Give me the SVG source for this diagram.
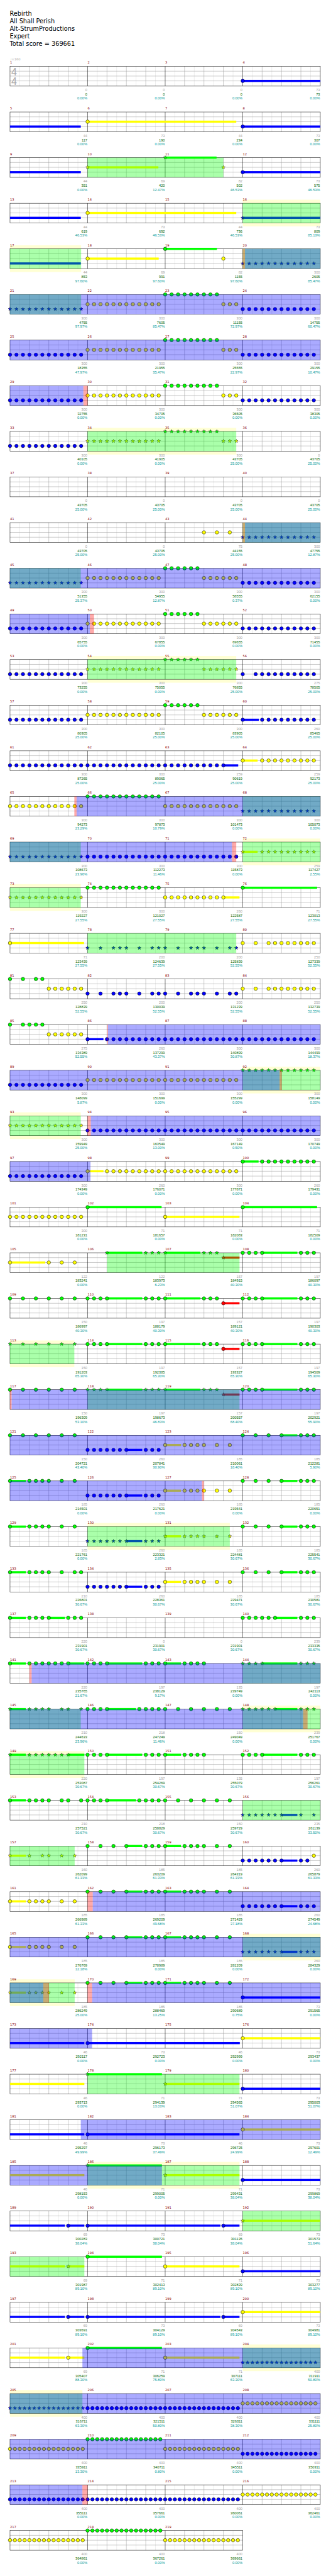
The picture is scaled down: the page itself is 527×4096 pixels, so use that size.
<svg xmlns="http://www.w3.org/2000/svg" xmlns:xlink="http://www.w3.org/1999/xlink" width="527" height="4096" viewBox="0 0 527 4096">
<style>
.G{fill:#00ff00}.R{fill:#ff0000}.Y{fill:#ffff00}.B{fill:#0000ff}
.og{fill:#00ff00;fill-opacity:.3333}.ob{fill:#0000ff;fill-opacity:.3333}.or{fill:#ff0000;fill-opacity:.3333}
.bd{fill:#ffffd4}
.mn{font:10px "DejaVu Sans",sans-serif;fill:#8b0000}
.la,.lb,.lc{font:11px "Liberation Sans",Arial,sans-serif;text-anchor:end}
.la{fill:#a0a0a0}.lb{fill:#006400}.lc{fill:#009a9a}
.ti{font:19px "DejaVu Sans",sans-serif;fill:#000}
.ts{font:31px "Liberation Sans",Arial,sans-serif;fill:#aaa}
.tp{font:10px "DejaVu Sans",sans-serif;fill:#aaa}
</style>
<defs>
<g id="g4"><rect x="31" width="960" height="61" fill="#fff"/><path stroke="#dcdcdc" d="M61 0V61M121 0V61M181 0V61M241 0V61M301 0V61M361 0V61M421 0V61M481 0V61M541 0V61M601 0V61M661 0V61M721 0V61M781 0V61M841 0V61M901 0V61M961 0V61"/><path stroke="#999" d="M91 0V61M151 0V61M211 0V61M331 0V61M391 0V61M451 0V61M571 0V61M631 0V61M691 0V61M811 0V61M871 0V61M931 0V61M31 15H991M31 30H991M31 45H991"/><path stroke="#000" d="M271 0V61M511 0V61M751 0V61"/><rect x="31" width="960" height="61" fill="none" stroke="#000"/></g>
<g id="g3"><rect x="31" width="720" height="61" fill="#fff"/><path stroke="#dcdcdc" d="M61 0V61M121 0V61M181 0V61M241 0V61M301 0V61M361 0V61M421 0V61M481 0V61M541 0V61M601 0V61M661 0V61M721 0V61"/><path stroke="#999" d="M91 0V61M151 0V61M211 0V61M331 0V61M391 0V61M451 0V61M571 0V61M631 0V61M691 0V61M31 15H751M31 30H751M31 45H751"/><path stroke="#000" d="M271 0V61M511 0V61"/><rect x="31" width="720" height="61" fill="none" stroke="#000"/></g>
<circle id="n" r="5.4" stroke="#000"/>
<path id="s" stroke="#000" stroke-width=".8" d="M0-5.8L1.41-1.94L5.52-1.79L2.28.74L3.41 4.69L0 2.4L-3.41 4.69L-2.28.74L-5.52-1.79L-1.41-1.94Z"/>
<g id="t3"><use href="#n"/><use href="#n" x="20"/><use href="#n" x="40"/></g>
<g id="t6"><use href="#t3"/><use href="#t3" x="60"/></g>
<g id="t9"><use href="#t6"/><use href="#t3" x="120"/></g>
<g id="t12"><use href="#t6"/><use href="#t6" x="120"/></g>
<g id="T3"><use href="#s"/><use href="#s" x="20"/><use href="#s" x="40"/></g>
<g id="T6"><use href="#T3"/><use href="#T3" x="60"/></g>
<g id="T9"><use href="#T6"/><use href="#T3" x="120"/></g>
<g id="T12"><use href="#T6"/><use href="#T6" x="120"/></g>
<g id="s4"><use href="#n"/><use href="#n" x="15"/><use href="#n" x="30"/><use href="#n" x="45"/></g>
<g id="s16"><use href="#s4"/><use href="#s4" x="60"/><use href="#s4" x="120"/><use href="#s4" x="180"/></g>
<g id="S4"><use href="#s"/><use href="#s" x="15"/><use href="#s" x="30"/><use href="#s" x="45"/></g>
<g id="S16"><use href="#S4"/><use href="#S4" x="60"/><use href="#S4" x="120"/><use href="#S4" x="180"/></g>
<g id="p8"><use href="#n"/><use href="#n" x="40"/><use href="#t3" x="80"/><use href="#n" x="160"/><use href="#n" x="200"/><use href="#n" x="220"/></g>
<g id="P8"><use href="#s"/><use href="#s" x="40"/><use href="#T3" x="80"/><use href="#s" x="160"/><use href="#s" x="200"/><use href="#s" x="220"/></g>
<g id="p10"><use href="#n"/><use href="#n" x="40"/><use href="#t3" x="80"/><use href="#t3" x="140"/><use href="#n" x="200"/><use href="#n" x="220"/></g>
<g id="pe"><use href="#n"/><use href="#n" x="40"/><use href="#n" x="80"/><use href="#n" x="120"/><use href="#n" x="160"/><use href="#n" x="200"/></g>
<g id="PE"><use href="#s"/><use href="#s" x="40"/><use href="#s" x="80"/><use href="#s" x="120"/><use href="#s" x="160"/><use href="#s" x="200"/></g>
<g id="pq"><rect y="-3.3" width="49" height="6.6"/><use href="#n"/><use href="#t3" x="60"/><use href="#n" x="120"/><use href="#n" x="160"/><use href="#n" x="200"/></g>
<g id="PQ"><rect y="-3.3" width="49" height="6.6"/><use href="#s"/><use href="#T3" x="60"/><use href="#s" x="120"/><use href="#s" x="160"/><use href="#s" x="200"/></g>
<g id="pa"><use href="#t3"/><rect x="60" y="-3.3" width="109" height="6.6"/><use href="#n" x="60"/><use href="#t3" x="180"/></g>
<g id="PA"><use href="#T3"/><rect x="60" y="-3.3" width="109" height="6.6"/><use href="#s" x="60"/><use href="#T3" x="180"/></g>
<g id="pc"><use href="#n"/><use href="#n" x="40"/><use href="#n" x="80"/><rect x="120" y="-3.3" width="49" height="6.6"/><use href="#n" x="120"/><use href="#t3" x="180"/></g>
<g id="pd"><use href="#t6"/><rect x="120" y="-3.3" width="49" height="6.6"/><use href="#n" x="120"/><use href="#t3" x="180"/></g>
<g id="PD"><use href="#T6"/><rect x="120" y="-3.3" width="49" height="6.6"/><use href="#s" x="120"/><use href="#T3" x="180"/></g>
<g id="pf"><use href="#t3"/><use href="#n" x="60"/><use href="#n" x="80"/><rect x="100" y="-3.3" width="69" height="6.6"/><use href="#n" x="100"/><use href="#t3" x="180"/></g>
<g id="PF"><use href="#T3"/><use href="#s" x="60"/><use href="#s" x="80"/><rect x="100" y="-3.3" width="69" height="6.6"/><use href="#s" x="100"/><use href="#T3" x="180"/></g>
<g id="ph"><rect y="-3.3" width="49" height="6.6"/><use href="#n"/><use href="#t6" x="60"/><rect x="180" y="-3.3" width="50" height="6.6"/><use href="#n" x="180"/></g>
<g id="PH"><rect y="-3.3" width="49" height="6.6"/><use href="#s"/><use href="#T6" x="60"/><rect x="180" y="-3.3" width="50" height="6.6"/><use href="#s" x="180"/></g>
<g id="pi"><rect y="-3.3" width="49" height="6.6"/><use href="#n"/><use href="#t3" x="60"/><use href="#n" x="120"/><use href="#n" x="160"/><use href="#n" x="180"/><use href="#n" x="220"/></g>
<g id="PI"><rect y="-3.3" width="49" height="6.6"/><use href="#s"/><use href="#T3" x="60"/><use href="#s" x="120"/><use href="#s" x="160"/><use href="#s" x="180"/><use href="#s" x="220"/></g>
<g id="pj"><use href="#t3"/><rect x="60" y="-3.3" width="90" height="6.6"/><use href="#n" x="60"/><use href="#n" x="160"/><use href="#t3" x="180"/></g>
<g id="pk"><rect y="-3.3" width="49" height="6.6"/><use href="#n"/><use href="#t3" x="60"/><use href="#n" x="120"/></g>
<g id="pm"><rect y="-3.3" width="109" height="6.6"/><use href="#n"/><use href="#t3" x="120"/></g>
<g id="PM"><rect y="-3.3" width="109" height="6.6"/><use href="#s"/><use href="#T3" x="120"/></g>
</defs>
<g transform="scale(0.5146)">
<g id="title">
<text class="ti" x="30" y="49">Rebirth</text>
<text class="ti" x="30" y="72">All Shall Perish</text>
<text class="ti" x="30" y="95">Alt-StrumProductions</text>
<text class="ti" x="30" y="118">Expert</text>
<text class="ti" x="30" y="141">Total score = 369661</text>
<text class="tp" x="31" y="186">♩=160</text>
</g>

<g id="row1" transform="translate(0,205)"><use href="#g4"/>
<text class="ts" x="35" y="27.5">4</text><text class="ts" x="35" y="57">4</text>
<rect class="B" x="751" y="41.7" width="240" height="6.6"/><use href="#n" x="751" y="45" class="B"/>
<text class="mn" y="-8"><tspan x="31">1</tspan><tspan x="271">2</tspan><tspan x="511">3</tspan><tspan x="751">4</tspan></text>
<text class="la" y="77"><tspan x="270">0</tspan><tspan x="510">0</tspan><tspan x="750">0</tspan><tspan x="990">73</tspan></text>
<text class="lb" y="90.3"><tspan x="270">0</tspan><tspan x="510">0</tspan><tspan x="750">0</tspan><tspan x="990">73</tspan></text>
<text class="lc" y="103"><tspan x="270">0.00%</tspan><tspan x="510">0.00%</tspan><tspan x="750">0.00%</tspan><tspan x="990">0.00%</tspan></text></g>

<g id="row2" transform="translate(0,346)"><use href="#g4"/>
<rect class="B" x="31" y="41.7" width="219" height="6.6"/>
<rect class="Y" x="271" y="26.7" width="460" height="6.6"/><use href="#n" x="271" y="30" class="Y"/>
<rect class="B" x="751" y="41.7" width="240" height="6.6"/><use href="#n" x="751" y="45" class="B"/>
<text class="mn" y="-8"><tspan x="31">5</tspan><tspan x="271">6</tspan><tspan x="511">7</tspan><tspan x="751">8</tspan></text>
<text class="la" y="77"><tspan x="270">44</tspan><tspan x="510">73</tspan><tspan x="750">44</tspan><tspan x="990">73</tspan></text>
<text class="lb" y="90.3"><tspan x="270">117</tspan><tspan x="510">190</tspan><tspan x="750">234</tspan><tspan x="990">307</tspan></text>
<text class="lc" y="103"><tspan x="270">0.00%</tspan><tspan x="510">0.00%</tspan><tspan x="750">0.00%</tspan><tspan x="990">0.00%</tspan></text></g>

<g id="row3" transform="translate(0,487)"><use href="#g4"/>
<rect class="B" x="31" y="41.7" width="219" height="6.6"/>
<rect class="Y" x="271" y="26.7" width="219" height="6.6"/><use href="#s" x="271" y="30" class="Y"/>
<rect class="G" x="511" y="-3.3" width="159" height="6.6"/><use href="#s" x="511" y="0" class="G"/>
<use href="#s" x="691" y="30" class="Y"/>
<rect class="B" x="751" y="41.7" width="240" height="6.6"/><use href="#n" x="751" y="45" class="B"/>
<rect class="og" x="271" width="420" height="61"/>
<text class="mn" y="-8"><tspan x="31">9</tspan><tspan x="271">10</tspan><tspan x="511">11</tspan><tspan x="751">12</tspan></text>
<text class="la" y="77"><tspan x="270">44</tspan><tspan x="510">69</tspan><tspan x="750">82</tspan><tspan x="990">73</tspan></text>
<text class="lb" y="90.3"><tspan x="270">351</tspan><tspan x="510">420</tspan><tspan x="750">502</tspan><tspan x="990">575</tspan></text>
<text class="lc" y="103"><tspan x="270">0.00%</tspan><tspan x="510">12.47%</tspan><tspan x="750">46.53%</tspan><tspan x="990">46.53%</tspan></text></g>

<g id="row4" transform="translate(0,628)">
<rect class="bd" x="751" y="-11" width="240" height="82.5"/><use href="#g4"/>
<rect class="B" x="31" y="41.7" width="219" height="6.6"/>
<rect class="Y" x="271" y="26.7" width="460" height="6.6"/><use href="#n" x="271" y="30" class="Y"/>
<rect class="B" x="751" y="41.7" width="240" height="6.6"/><use href="#s" x="751" y="45" class="B"/>
<rect class="og" x="751" width="240" height="61"/>
<text class="mn" y="-8"><tspan x="31">13</tspan><tspan x="271">14</tspan><tspan x="511">15</tspan><tspan x="751">16</tspan></text>
<text class="la" y="77"><tspan x="270">44</tspan><tspan x="510">73</tspan><tspan x="750">44</tspan><tspan x="990">73</tspan></text>
<text class="lb" y="90.3"><tspan x="270">619</tspan><tspan x="510">692</tspan><tspan x="750">736</tspan><tspan x="990">809</tspan></text>
<text class="lc" y="103"><tspan x="270">46.53%</tspan><tspan x="510">46.53%</tspan><tspan x="750">46.53%</tspan><tspan x="990">85.13%</tspan></text></g>

<g id="row5" transform="translate(0,769)">
<rect class="bd" x="31" y="-11" width="220" height="82.5"/><use href="#g4"/>
<rect class="B" x="31" y="41.7" width="219" height="6.6"/>
<rect class="Y" x="271" y="26.7" width="220" height="6.6"/><use href="#n" x="271" y="30" class="Y"/>
<rect class="G" x="511" y="-3.3" width="160" height="6.6"/><use href="#n" x="511" y="0" class="G"/>
<use href="#n" x="691" y="30" class="Y"/>
<use href="#T12" x="751" y="45" class="B"/>
<rect class="og" x="31" width="220" height="61"/><rect class="og" x="751" width="240" height="61"/>
<rect class="or" x="751" width="7" height="61"/><rect class="ob" x="758" width="233" height="61"/>
<text class="mn" y="-8"><tspan x="31">17</tspan><tspan x="271">18</tspan><tspan x="511">19</tspan><tspan x="751">20</tspan></text>
<text class="la" y="77"><tspan x="270">44</tspan><tspan x="510">69</tspan><tspan x="750">82</tspan><tspan x="990">300</tspan></text>
<text class="lb" y="90.3"><tspan x="270">853</tspan><tspan x="510">991</tspan><tspan x="750">1155</tspan><tspan x="990">2605</tspan></text>
<text class="lc" y="103"><tspan x="270">97.60%</tspan><tspan x="510">97.60%</tspan><tspan x="750">97.60%</tspan><tspan x="990">85.47%</tspan></text></g>

<g id="row6" transform="translate(0,910)"><use href="#g4"/>
<use href="#T12" x="31" y="45" class="B"/><use href="#t12" x="271" y="30" class="Y"/><use href="#t9" x="511" y="0" class="G"/><use href="#t3" x="691" y="30" class="Y"/><use href="#t12" x="751" y="45" class="B"/>
<rect class="og" x="31" width="220" height="61"/><rect class="ob" x="31" width="960" height="61"/>
<text class="mn" y="-8"><tspan x="31">21</tspan><tspan x="271">22</tspan><tspan x="511">23</tspan><tspan x="751">24</tspan></text>
<text class="la" y="77"><tspan x="270">300</tspan><tspan x="510">300</tspan><tspan x="750">300</tspan><tspan x="990">300</tspan></text>
<text class="lb" y="90.3"><tspan x="270">4755</tspan><tspan x="510">7605</tspan><tspan x="750">11155</tspan><tspan x="990">14755</tspan></text>
<text class="lc" y="103"><tspan x="270">97.97%</tspan><tspan x="510">85.47%</tspan><tspan x="750">72.97%</tspan><tspan x="990">60.47%</tspan></text></g>

<g id="row7" transform="translate(0,1051)"><use href="#g4"/>
<use href="#t12" x="31" y="45" class="B"/><use href="#t12" x="271" y="30" class="Y"/><use href="#t9" x="511" y="0" class="G"/><use href="#t3" x="691" y="30" class="Y"/><use href="#t12" x="751" y="45" class="B"/>
<rect class="ob" x="31" width="960" height="61"/>
<text class="mn" y="-8"><tspan x="31">25</tspan><tspan x="271">26</tspan><tspan x="511">27</tspan><tspan x="751">28</tspan></text>
<text class="la" y="77"><tspan x="270">300</tspan><tspan x="510">300</tspan><tspan x="750">300</tspan><tspan x="990">300</tspan></text>
<text class="lb" y="90.3"><tspan x="270">18355</tspan><tspan x="510">21955</tspan><tspan x="750">25555</tspan><tspan x="990">29155</tspan></text>
<text class="lc" y="103"><tspan x="270">47.97%</tspan><tspan x="510">35.47%</tspan><tspan x="750">22.97%</tspan><tspan x="990">10.47%</tspan></text></g>

<g id="row8" transform="translate(0,1192)"><use href="#g4"/>
<use href="#t12" x="31" y="45" class="B"/><use href="#t12" x="271" y="30" class="Y"/><use href="#t9" x="511" y="0" class="G"/><use href="#t3" x="691" y="30" class="Y"/><use href="#t12" x="751" y="45" class="B"/>
<rect class="ob" x="31" width="227" height="61"/><rect class="or" x="258" width="13" height="61"/>
<text class="mn" y="-8"><tspan x="31">29</tspan><tspan x="271">30</tspan><tspan x="511">31</tspan><tspan x="751">32</tspan></text>
<text class="la" y="77"><tspan x="270">300</tspan><tspan x="510">300</tspan><tspan x="750">300</tspan><tspan x="990">300</tspan></text>
<text class="lb" y="90.3"><tspan x="270">32755</tspan><tspan x="510">34705</tspan><tspan x="750">36505</tspan><tspan x="990">38305</tspan></text>
<text class="lc" y="103"><tspan x="270">0.00%</tspan><tspan x="510">0.00%</tspan><tspan x="750">0.00%</tspan><tspan x="990">0.00%</tspan></text></g>

<g id="row9" transform="translate(0,1333)">
<rect class="bd" x="271" y="-11" width="460" height="82.5"/><use href="#g4"/>
<use href="#t12" x="31" y="45" class="B"/><use href="#T12" x="271" y="30" class="Y"/><use href="#T9" x="511" y="0" class="G"/><use href="#T3" x="691" y="30" class="Y"/>
<rect class="og" x="271" width="460" height="61"/>
<text class="mn" y="-8"><tspan x="31">33</tspan><tspan x="271">34</tspan><tspan x="511">35</tspan><tspan x="751">36</tspan></text>
<text class="la" y="77"><tspan x="270">300</tspan><tspan x="510">300</tspan><tspan x="750">300</tspan><tspan x="990">0</tspan></text>
<text class="lb" y="90.3"><tspan x="270">40105</tspan><tspan x="510">41905</tspan><tspan x="750">43705</tspan><tspan x="990">43705</tspan></text>
<text class="lc" y="103"><tspan x="270">0.00%</tspan><tspan x="510">0.00%</tspan><tspan x="750">25.00%</tspan><tspan x="990">25.00%</tspan></text></g>

<g id="row10" transform="translate(0,1474)"><use href="#g4"/>
<text class="mn" y="-8"><tspan x="31">37</tspan><tspan x="271">38</tspan><tspan x="511">39</tspan><tspan x="751">40</tspan></text>
<text class="la" y="77"><tspan x="270">0</tspan><tspan x="510">0</tspan><tspan x="750">0</tspan><tspan x="990">0</tspan></text>
<text class="lb" y="90.3"><tspan x="270">43705</tspan><tspan x="510">43705</tspan><tspan x="750">43705</tspan><tspan x="990">43705</tspan></text>
<text class="lc" y="103"><tspan x="270">25.00%</tspan><tspan x="510">25.00%</tspan><tspan x="750">25.00%</tspan><tspan x="990">25.00%</tspan></text></g>

<g id="row11" transform="translate(0,1615)"><use href="#g4"/>
<use href="#n" x="631" y="30" class="Y"/><use href="#n" x="671" y="30" class="Y"/><use href="#n" x="711" y="30" class="Y"/>
<use href="#T12" x="751" y="45" class="B"/>
<rect class="og" x="751" width="240" height="61"/><rect class="or" x="751" width="7" height="61"/><rect class="ob" x="758" width="233" height="61"/>
<text class="mn" y="-8"><tspan x="31">41</tspan><tspan x="271">42</tspan><tspan x="511">43</tspan><tspan x="751">44</tspan></text>
<text class="la" y="77"><tspan x="270">0</tspan><tspan x="510">0</tspan><tspan x="750">75</tspan><tspan x="990">300</tspan></text>
<text class="lb" y="90.3"><tspan x="270">43705</tspan><tspan x="510">43705</tspan><tspan x="750">44155</tspan><tspan x="990">47755</tspan></text>
<text class="lc" y="103"><tspan x="270">25.00%</tspan><tspan x="510">25.00%</tspan><tspan x="750">25.00%</tspan><tspan x="990">12.87%</tspan></text></g>

<g id="row12" transform="translate(0,1756)"><use href="#g4"/>
<use href="#T12" x="31" y="45" class="B"/><use href="#t12" x="271" y="30" class="Y"/><use href="#t6" x="511" y="0" class="G"/><use href="#t6" x="631" y="30" class="Y"/><use href="#t12" x="751" y="45" class="B"/>
<rect class="og" x="31" width="219" height="61"/><rect class="ob" x="31" width="960" height="61"/>
<text class="mn" y="-8"><tspan x="31">45</tspan><tspan x="271">46</tspan><tspan x="511">47</tspan><tspan x="751">48</tspan></text>
<text class="la" y="77"><tspan x="270">300</tspan><tspan x="510">300</tspan><tspan x="750">300</tspan><tspan x="990">300</tspan></text>
<text class="lb" y="90.3"><tspan x="270">51355</tspan><tspan x="510">54955</tspan><tspan x="750">58555</tspan><tspan x="990">62155</tspan></text>
<text class="lc" y="103"><tspan x="270">25.37%</tspan><tspan x="510">12.87%</tspan><tspan x="750">0.37%</tspan><tspan x="990">0.00%</tspan></text></g>

<g id="row13" transform="translate(0,1897)"><use href="#g4"/>
<use href="#t12" x="31" y="45" class="B"/><use href="#t12" x="271" y="30" class="Y"/><use href="#t6" x="511" y="0" class="G"/><use href="#t6" x="631" y="30" class="Y"/><use href="#t12" x="751" y="45" class="B"/>
<rect class="ob" x="31" width="247" height="61"/><rect class="or" x="278" width="13" height="61"/>
<text class="mn" y="-8"><tspan x="31">49</tspan><tspan x="271">50</tspan><tspan x="511">51</tspan><tspan x="751">52</tspan></text>
<text class="la" y="77"><tspan x="270">300</tspan><tspan x="510">300</tspan><tspan x="750">300</tspan><tspan x="990">300</tspan></text>
<text class="lb" y="90.3"><tspan x="270">65755</tspan><tspan x="510">67855</tspan><tspan x="750">69655</tspan><tspan x="990">71455</tspan></text>
<text class="lc" y="103"><tspan x="270">0.00%</tspan><tspan x="510">0.00%</tspan><tspan x="750">0.00%</tspan><tspan x="990">0.00%</tspan></text></g>

<g id="row14" transform="translate(0,2038)">
<rect class="bd" x="271" y="-11" width="460" height="82.5"/><use href="#g4"/>
<use href="#t12" x="31" y="45" class="B"/><use href="#T12" x="271" y="30" class="Y"/><use href="#T6" x="511" y="0" class="G"/><use href="#T6" x="631" y="30" class="Y"/>
<use href="#n" x="751" y="45" class="B"/><use href="#n" x="791" y="45" class="B"/><use href="#t9" x="811" y="45" class="B"/>
<rect class="og" x="271" width="460" height="61"/>
<text class="mn" y="-8"><tspan x="31">53</tspan><tspan x="271">54</tspan><tspan x="511">55</tspan><tspan x="751">56</tspan></text>
<text class="la" y="77"><tspan x="270">300</tspan><tspan x="510">300</tspan><tspan x="750">300</tspan><tspan x="990">275</tspan></text>
<text class="lb" y="90.3"><tspan x="270">73255</tspan><tspan x="510">75055</tspan><tspan x="750">76855</tspan><tspan x="990">78505</tspan></text>
<text class="lc" y="103"><tspan x="270">0.00%</tspan><tspan x="510">0.00%</tspan><tspan x="750">25.00%</tspan><tspan x="990">25.00%</tspan></text></g>

<g id="row15" transform="translate(0,2179)"><use href="#g4"/>
<use href="#t12" x="31" y="45" class="B"/><use href="#t12" x="271" y="30" class="Y"/><use href="#t6" x="511" y="0" class="G"/><use href="#t6" x="631" y="30" class="Y"/>
<rect class="B" x="751" y="41.7" width="50" height="6.6"/><use href="#n" x="751" y="45" class="B"/><use href="#t9" x="811" y="45" class="B"/>
<text class="mn" y="-8"><tspan x="31">57</tspan><tspan x="271">58</tspan><tspan x="511">59</tspan><tspan x="751">60</tspan></text>
<text class="la" y="77"><tspan x="270">300</tspan><tspan x="510">300</tspan><tspan x="750">300</tspan><tspan x="990">260</tspan></text>
<text class="lb" y="90.3"><tspan x="270">80305</tspan><tspan x="510">82105</tspan><tspan x="750">83905</tspan><tspan x="990">85465</tspan></text>
<text class="lc" y="103"><tspan x="270">25.00%</tspan><tspan x="510">25.00%</tspan><tspan x="750">25.00%</tspan><tspan x="990">25.00%</tspan></text></g>

<g id="row16" transform="translate(0,2320)"><use href="#g4"/>
<use href="#t12" x="31" y="45" class="B"/><use href="#t12" x="271" y="45" class="B"/><use href="#t9" x="511" y="45" class="B"/>
<rect class="B" x="691" y="41.7" width="46" height="6.6"/><use href="#n" x="691" y="45" class="B"/>
<rect class="Y" x="751" y="26.7" width="46" height="6.6"/><use href="#n" x="751" y="30" class="Y"/><use href="#t9" x="811" y="30" class="Y"/>
<text class="mn" y="-8"><tspan x="31">61</tspan><tspan x="271">62</tspan><tspan x="511">63</tspan><tspan x="751">64</tspan></text>
<text class="la" y="77"><tspan x="270">300</tspan><tspan x="510">300</tspan><tspan x="750">259</tspan><tspan x="990">259</tspan></text>
<text class="lb" y="90.3"><tspan x="270">87265</tspan><tspan x="510">89065</tspan><tspan x="750">90619</tspan><tspan x="990">92173</tspan></text>
<text class="lc" y="103"><tspan x="270">25.00%</tspan><tspan x="510">25.00%</tspan><tspan x="750">25.00%</tspan><tspan x="990">25.00%</tspan></text></g>

<g id="row17" transform="translate(0,2461)"><use href="#g4"/>
<use href="#t12" x="31" y="30" class="Y"/><use href="#t12" x="271" y="0" class="G"/><use href="#t12" x="511" y="30" class="Y"/><use href="#T12" x="751" y="45" class="B"/>
<rect class="og" x="751" width="240" height="61"/><rect class="or" x="230" width="7" height="61"/><rect class="ob" x="237" width="754" height="61"/>
<text class="mn" y="-8"><tspan x="31">65</tspan><tspan x="271">66</tspan><tspan x="511">67</tspan><tspan x="751">68</tspan></text>
<text class="la" y="77"><tspan x="270">300</tspan><tspan x="510">300</tspan><tspan x="750">300</tspan><tspan x="990">300</tspan></text>
<text class="lb" y="90.3"><tspan x="270">94273</tspan><tspan x="510">97873</tspan><tspan x="750">101473</tspan><tspan x="990">105073</tspan></text>
<text class="lc" y="103"><tspan x="270">23.29%</tspan><tspan x="510">10.79%</tspan><tspan x="750">0.00%</tspan><tspan x="990">0.00%</tspan></text></g>

<g id="row18" transform="translate(0,2602)">
<rect class="bd" x="751" y="-11" width="240" height="82.5"/><use href="#g4"/>
<use href="#T12" x="31" y="45" class="B"/><use href="#t12" x="271" y="45" class="B"/><use href="#t12" x="511" y="45" class="B"/>
<rect class="Y" x="751" y="26.7" width="46" height="6.6"/><use href="#s" x="751" y="30" class="Y"/><use href="#T9" x="811" y="30" class="Y"/>
<rect class="og" x="31" width="219" height="61"/><rect class="og" x="751" width="240" height="61"/>
<rect class="ob" x="31" width="687" height="61"/><rect class="or" x="718" width="13" height="61"/>
<text class="mn" y="-8"><tspan x="31">69</tspan><tspan x="271">70</tspan><tspan x="511">71</tspan><tspan x="751">72</tspan></text>
<text class="la" y="77"><tspan x="270">300</tspan><tspan x="510">300</tspan><tspan x="750">300</tspan><tspan x="990">259</tspan></text>
<text class="lb" y="90.3"><tspan x="270">108673</tspan><tspan x="510">112273</tspan><tspan x="750">115873</tspan><tspan x="990">117427</tspan></text>
<text class="lc" y="103"><tspan x="270">23.96%</tspan><tspan x="510">11.46%</tspan><tspan x="750">0.00%</tspan><tspan x="990">2.55%</tspan></text></g>

<g id="row19" transform="translate(0,2743)">
<rect class="bd" x="31" y="-11" width="219" height="82.5"/><use href="#g4"/>
<use href="#T12" x="31" y="30" class="Y"/><use href="#t12" x="271" y="0" class="G"/><use href="#t9" x="511" y="30" class="Y"/>
<rect class="Y" x="691" y="26.7" width="50" height="6.6"/><use href="#n" x="691" y="30" class="Y"/>
<rect class="G" x="751" y="-3.3" width="230" height="6.6"/><use href="#n" x="751" y="0" class="G"/>
<rect class="og" x="31" width="219" height="61"/>
<text class="mn" y="-8"><tspan x="31">73</tspan><tspan x="271">74</tspan><tspan x="511">75</tspan><tspan x="751">76</tspan></text>
<text class="la" y="77"><tspan x="270">300</tspan><tspan x="510">300</tspan><tspan x="750">260</tspan><tspan x="990">71</tspan></text>
<text class="lb" y="90.3"><tspan x="270">119227</tspan><tspan x="510">121027</tspan><tspan x="750">122587</tspan><tspan x="990">123013</tspan></text>
<text class="lc" y="103"><tspan x="270">27.55%</tspan><tspan x="510">27.55%</tspan><tspan x="750">27.55%</tspan><tspan x="990">27.55%</tspan></text></g>

<g id="row20" transform="translate(0,2884)"><use href="#g4"/>
<rect class="Y" x="31" y="26.7" width="229" height="6.6"/><use href="#n" x="31" y="30" class="Y"/>
<use href="#P8" x="271" y="45" class="B"/><use href="#P8" x="511" y="45" class="B"/><use href="#p10" x="751" y="30" class="Y"/>
<rect class="og" x="271" width="460" height="61"/>
<text class="mn" y="-8"><tspan x="31">77</tspan><tspan x="271">78</tspan><tspan x="511">79</tspan><tspan x="751">80</tspan></text>
<text class="la" y="77"><tspan x="270">71</tspan><tspan x="510">200</tspan><tspan x="750">200</tspan><tspan x="990">250</tspan></text>
<text class="lb" y="90.3"><tspan x="270">123439</tspan><tspan x="510">124639</tspan><tspan x="750">125839</tspan><tspan x="990">127339</tspan></text>
<text class="lc" y="103"><tspan x="270">27.55%</tspan><tspan x="510">27.55%</tspan><tspan x="750">52.55%</tspan><tspan x="990">52.55%</tspan></text></g>

<g id="row21" transform="translate(0,3025)"><use href="#g4"/>
<use href="#n" x="31" class="G"/><use href="#n" x="71" class="G"/><use href="#n" x="111" class="G"/><use href="#n" x="131" class="G"/><use href="#t6" x="151" y="30" class="Y"/>
<use href="#p8" x="271" y="45" class="B"/><use href="#p8" x="511" y="45" class="B"/><use href="#p10" x="751" y="30" class="Y"/>
<text class="mn" y="-8"><tspan x="31">81</tspan><tspan x="271">82</tspan><tspan x="511">83</tspan><tspan x="751">84</tspan></text>
<text class="la" y="77"><tspan x="270">250</tspan><tspan x="510">200</tspan><tspan x="750">200</tspan><tspan x="990">250</tspan></text>
<text class="lb" y="90.3"><tspan x="270">128839</tspan><tspan x="510">130039</tspan><tspan x="750">131239</tspan><tspan x="990">132739</tspan></text>
<text class="lc" y="103"><tspan x="270">52.55%</tspan><tspan x="510">52.55%</tspan><tspan x="750">52.55%</tspan><tspan x="990">52.55%</tspan></text></g>

<g id="row22" transform="translate(0,3166)"><use href="#g4"/>
<use href="#n" x="31" class="G"/><use href="#n" x="71" class="G"/><use href="#n" x="91" class="G"/><use href="#n" x="111" class="G"/><use href="#n" x="131" class="G"/><use href="#t6" x="151" y="30" class="Y"/>
<rect class="B" x="271" y="41.7" width="49" height="6.6"/><use href="#n" x="271" y="45" class="B"/><use href="#t9" x="331" y="45" class="B"/>
<use href="#t12" x="511" y="45" class="B"/><use href="#t12" x="751" y="45" class="B"/>
<rect class="or" x="331" width="3" height="61"/><rect class="ob" x="334" width="657" height="61"/>
<text class="mn" y="-8"><tspan x="31">85</tspan><tspan x="271">86</tspan><tspan x="511">87</tspan><tspan x="751">88</tspan></text>
<text class="la" y="77"><tspan x="270">275</tspan><tspan x="510">260</tspan><tspan x="750">300</tspan><tspan x="990">300</tspan></text>
<text class="lb" y="90.3"><tspan x="270">134389</tspan><tspan x="510">137299</tspan><tspan x="750">140899</tspan><tspan x="990">144499</tspan></text>
<text class="lc" y="103"><tspan x="270">52.55%</tspan><tspan x="510">43.37%</tspan><tspan x="750">30.87%</tspan><tspan x="990">18.37%</tspan></text></g>

<g id="row23" transform="translate(0,3307)">
<rect class="bd" x="751" y="-11" width="240" height="82.5"/><use href="#g4"/>
<use href="#t12" x="31" y="45" class="B"/><use href="#t12" x="271" y="30" class="Y"/><use href="#t12" x="511" y="30" class="Y"/><use href="#T12" x="751" y="0" class="G"/>
<rect class="og" x="751" width="240" height="61"/><rect class="ob" x="31" width="834" height="61"/><rect class="or" x="865" width="7" height="61"/>
<text class="mn" y="-8"><tspan x="31">89</tspan><tspan x="271">90</tspan><tspan x="511">91</tspan><tspan x="751">92</tspan></text>
<text class="la" y="77"><tspan x="270">300</tspan><tspan x="510">300</tspan><tspan x="750">300</tspan><tspan x="990">300</tspan></text>
<text class="lb" y="90.3"><tspan x="270">148099</tspan><tspan x="510">151699</tspan><tspan x="750">155299</tspan><tspan x="990">158149</tspan></text>
<text class="lc" y="103"><tspan x="270">5.87%</tspan><tspan x="510">0.00%</tspan><tspan x="750">0.00%</tspan><tspan x="990">0.00%</tspan></text></g>

<g id="row24" transform="translate(0,3448)">
<rect class="bd" x="31" y="-11" width="219" height="82.5"/><use href="#g4"/>
<use href="#T12" x="31" y="30" class="Y"/><use href="#t12" x="271" y="45" class="B"/><use href="#t12" x="511" y="45" class="B"/><use href="#t12" x="751" y="45" class="B"/>
<rect class="og" x="31" width="219" height="61"/><rect class="or" x="271" width="10" height="61"/><rect class="ob" x="281" width="710" height="61"/>
<text class="mn" y="-8"><tspan x="31">93</tspan><tspan x="271">94</tspan><tspan x="511">95</tspan><tspan x="751">96</tspan></text>
<text class="la" y="77"><tspan x="270">300</tspan><tspan x="510">300</tspan><tspan x="750">300</tspan><tspan x="990">300</tspan></text>
<text class="lb" y="90.3"><tspan x="270">159949</tspan><tspan x="510">163549</tspan><tspan x="750">167149</tspan><tspan x="990">170749</tspan></text>
<text class="lc" y="103"><tspan x="270">25.00%</tspan><tspan x="510">13.00%</tspan><tspan x="750">0.50%</tspan><tspan x="990">0.00%</tspan></text></g>

<g id="row25" transform="translate(0,3589)"><use href="#g4"/>
<use href="#t12" x="31" y="45" class="B"/>
<rect class="Y" x="271" y="26.7" width="49" height="6.6"/><use href="#n" x="271" y="30" class="Y"/><use href="#t9" x="331" y="30" class="Y"/>
<use href="#t12" x="511" y="30" class="Y"/>
<rect class="G" x="751" y="-3.3" width="49" height="6.6"/><use href="#n" x="751" y="0" class="G"/><use href="#t9" x="811" y="0" class="G"/>
<rect class="ob" x="31" width="249" height="61"/>
<text class="mn" y="-8"><tspan x="31">97</tspan><tspan x="271">98</tspan><tspan x="511">99</tspan><tspan x="751">100</tspan></text>
<text class="la" y="77"><tspan x="270">300</tspan><tspan x="510">260</tspan><tspan x="750">300</tspan><tspan x="990">260</tspan></text>
<text class="lb" y="90.3"><tspan x="270">174349</tspan><tspan x="510">176071</tspan><tspan x="750">177871</tspan><tspan x="990">179431</tspan></text>
<text class="lc" y="103"><tspan x="270">0.00%</tspan><tspan x="510">0.00%</tspan><tspan x="750">0.00%</tspan><tspan x="990">0.00%</tspan></text></g>

<g id="row26" transform="translate(0,3730)"><use href="#g4"/>
<use href="#t12" x="31" y="30" class="Y"/>
<rect class="G" x="271" y="-3.3" width="229" height="6.6"/><use href="#n" x="271" y="0" class="G"/>
<rect class="Y" x="511" y="26.7" width="230" height="6.6"/><use href="#n" x="511" y="30" class="Y"/>
<rect class="G" x="751" y="-3.3" width="230" height="6.6"/><use href="#n" x="751" y="0" class="G"/>
<text class="mn" y="-8"><tspan x="31">101</tspan><tspan x="271">102</tspan><tspan x="511">103</tspan><tspan x="751">104</tspan></text>
<text class="la" y="77"><tspan x="270">300</tspan><tspan x="510">71</tspan><tspan x="750">71</tspan><tspan x="990">71</tspan></text>
<text class="lb" y="90.3"><tspan x="270">181231</tspan><tspan x="510">181657</tspan><tspan x="750">182083</tspan><tspan x="990">182509</tspan></text>
<text class="lc" y="103"><tspan x="270">0.00%</tspan><tspan x="510">0.00%</tspan><tspan x="750">0.00%</tspan><tspan x="990">0.00%</tspan></text></g>

<g id="row27" transform="translate(0,3871)"><use href="#g4"/>
<rect class="Y" x="31" y="26.7" width="109" height="6.6"/><use href="#n" x="31" y="30" class="Y"/><use href="#n" x="151" y="30" class="Y"/><use href="#n" x="191" y="30" class="Y"/><use href="#n" x="231" y="30" class="Y"/>
<rect class="G" x="331" y="-3.3" width="109" height="6.6"/><use href="#s" x="331" y="0" class="G"/><use href="#T3" x="451" y="0" class="G"/>
<use href="#PM" x="511" y="0" class="G"/>
<rect class="R" x="691" y="11.7" width="50" height="6.6"/><use href="#s" x="691" y="15" class="R"/>
<use href="#pa" x="751" y="0" class="G"/>
<rect class="og" x="331" width="410" height="61"/>
<text class="mn" y="-8"><tspan x="31">105</tspan><tspan x="271">106</tspan><tspan x="511">107</tspan><tspan x="751">108</tspan></text>
<text class="la" y="77"><tspan x="270">122</tspan><tspan x="510">122</tspan><tspan x="750">157</tspan><tspan x="990">197</tspan></text>
<text class="lb" y="90.3"><tspan x="270">183241</tspan><tspan x="510">183973</tspan><tspan x="750">184915</tspan><tspan x="990">186097</tspan></text>
<text class="lc" y="103"><tspan x="270">0.00%</tspan><tspan x="510">6.23%</tspan><tspan x="750">40.30%</tspan><tspan x="990">40.30%</tspan></text></g>

<g id="row28" transform="translate(0,4012)"><use href="#g4"/>
<use href="#pe" x="31" y="0" class="G"/><use href="#pa" x="271" y="0" class="G"/><use href="#pm" x="511" y="0" class="G"/>
<rect class="R" x="691" y="11.7" width="50" height="6.6"/><use href="#n" x="691" y="15" class="R"/>
<use href="#pa" x="751" y="0" class="G"/>
<text class="mn" y="-8"><tspan x="31">109</tspan><tspan x="271">110</tspan><tspan x="511">111</tspan><tspan x="751">112</tspan></text>
<text class="la" y="77"><tspan x="270">150</tspan><tspan x="510">197</tspan><tspan x="750">157</tspan><tspan x="990">197</tspan></text>
<text class="lb" y="90.3"><tspan x="270">186997</tspan><tspan x="510">188179</tspan><tspan x="750">189121</tspan><tspan x="990">190303</tspan></text>
<text class="lc" y="103"><tspan x="270">40.30%</tspan><tspan x="510">40.30%</tspan><tspan x="750">40.30%</tspan><tspan x="990">40.30%</tspan></text></g>

<g id="row29" transform="translate(0,4153)">
<rect class="bd" x="31" y="-11" width="199" height="82.5"/><use href="#g4"/>
<use href="#PE" x="31" y="0" class="G"/><use href="#pa" x="271" y="0" class="G"/><use href="#pm" x="511" y="0" class="G"/>
<rect class="R" x="691" y="11.7" width="50" height="6.6"/><use href="#n" x="691" y="15" class="R"/>
<use href="#pa" x="751" y="0" class="G"/>
<rect class="og" x="31" width="199" height="61"/>
<text class="mn" y="-8"><tspan x="31">113</tspan><tspan x="271">114</tspan><tspan x="511">115</tspan><tspan x="751">116</tspan></text>
<text class="la" y="77"><tspan x="270">150</tspan><tspan x="510">197</tspan><tspan x="750">157</tspan><tspan x="990">197</tspan></text>
<text class="lb" y="90.3"><tspan x="270">191203</tspan><tspan x="510">192385</tspan><tspan x="750">193327</tspan><tspan x="990">194509</tspan></text>
<text class="lc" y="103"><tspan x="270">65.30%</tspan><tspan x="510">65.30%</tspan><tspan x="750">65.30%</tspan><tspan x="990">65.30%</tspan></text></g>

<g id="row30" transform="translate(0,4294)"><use href="#g4"/>
<use href="#pe" x="31" y="0" class="G"/><use href="#PA" x="271" y="0" class="G"/><use href="#PM" x="511" y="0" class="G"/>
<rect class="R" x="691" y="11.7" width="50" height="6.6"/><use href="#s" x="691" y="15" class="R"/>
<use href="#pa" x="751" y="0" class="G"/>
<rect class="og" x="271" width="470" height="61"/><rect class="or" x="31" width="5" height="61"/><rect class="ob" x="36" width="955" height="61"/>
<text class="mn" y="-8"><tspan x="31">117</tspan><tspan x="271">118</tspan><tspan x="511">119</tspan><tspan x="751">120</tspan></text>
<text class="la" y="77"><tspan x="270">150</tspan><tspan x="510">197</tspan><tspan x="750">157</tspan><tspan x="990">197</tspan></text>
<text class="lb" y="90.3"><tspan x="270">196309</tspan><tspan x="510">198673</tspan><tspan x="750">200557</tspan><tspan x="990">202921</tspan></text>
<text class="lc" y="103"><tspan x="270">53.10%</tspan><tspan x="510">46.83%</tspan><tspan x="750">68.40%</tspan><tspan x="990">55.90%</tspan></text></g>

<g id="row31" transform="translate(0,4435)"><use href="#g4"/>
<use href="#pe" x="31" y="0" class="G"/><use href="#pd" x="271" y="45" class="B"/><use href="#pq" x="511" y="30" class="Y"/><use href="#pc" x="751" y="0" class="G"/>
<rect class="ob" x="31" width="960" height="61"/>
<text class="mn" y="-8"><tspan x="31">121</tspan><tspan x="271">122</tspan><tspan x="511">123</tspan><tspan x="751">124</tspan></text>
<text class="la" y="77"><tspan x="270">150</tspan><tspan x="510">260</tspan><tspan x="750">185</tspan><tspan x="990">185</tspan></text>
<text class="lb" y="90.3"><tspan x="270">204721</tspan><tspan x="510">207841</tspan><tspan x="750">210061</tspan><tspan x="990">212281</tspan></text>
<text class="lc" y="103"><tspan x="270">43.40%</tspan><tspan x="510">30.90%</tspan><tspan x="750">18.40%</tspan><tspan x="990">5.90%</tspan></text></g>

<g id="row32" transform="translate(0,4576)"><use href="#g4"/>
<use href="#pq" x="31" y="0" class="G"/><use href="#pd" x="271" y="45" class="B"/><use href="#pq" x="511" y="30" class="Y"/><use href="#pc" x="751" y="0" class="G"/>
<rect class="ob" x="31" width="594" height="61"/><rect class="or" x="625" width="6" height="61"/>
<text class="mn" y="-8"><tspan x="31">125</tspan><tspan x="271">126</tspan><tspan x="511">127</tspan><tspan x="751">128</tspan></text>
<text class="la" y="77"><tspan x="270">185</tspan><tspan x="510">260</tspan><tspan x="750">185</tspan><tspan x="990">185</tspan></text>
<text class="lb" y="90.3"><tspan x="270">214501</tspan><tspan x="510">217621</tspan><tspan x="750">219541</tspan><tspan x="990">220651</tspan></text>
<text class="lc" y="103"><tspan x="270">0.00%</tspan><tspan x="510">0.00%</tspan><tspan x="750">0.00%</tspan><tspan x="990">0.00%</tspan></text></g>

<g id="row33" transform="translate(0,4717)">
<rect class="bd" x="271" y="-11" width="440" height="82.5"/><use href="#g4"/>
<use href="#pq" x="31" y="0" class="G"/><use href="#PD" x="271" y="45" class="B"/><use href="#PQ" x="511" y="30" class="Y"/><use href="#pc" x="751" y="0" class="G"/>
<rect class="og" x="271" width="440" height="61"/>
<text class="mn" y="-8"><tspan x="31">129</tspan><tspan x="271">130</tspan><tspan x="511">131</tspan><tspan x="751">132</tspan></text>
<text class="la" y="77"><tspan x="270">185</tspan><tspan x="510">260</tspan><tspan x="750">185</tspan><tspan x="990">185</tspan></text>
<text class="lb" y="90.3"><tspan x="270">221761</tspan><tspan x="510">223321</tspan><tspan x="750">224481</tspan><tspan x="990">225541</tspan></text>
<text class="lc" y="103"><tspan x="270">0.00%</tspan><tspan x="510">2.83%</tspan><tspan x="750">30.67%</tspan><tspan x="990">30.67%</tspan></text></g>

<g id="row34" transform="translate(0,4858)"><use href="#g4"/>
<use href="#pq" x="31" y="0" class="G"/><use href="#n" x="251" y="0" class="G"/><use href="#pd" x="271" y="45" class="B"/><use href="#pq" x="511" y="30" class="Y"/><use href="#pc" x="751" y="0" class="G"/>
<text class="mn" y="-8"><tspan x="31">133</tspan><tspan x="271">134</tspan><tspan x="511">135</tspan><tspan x="751">136</tspan></text>
<text class="la" y="77"><tspan x="270">210</tspan><tspan x="510">260</tspan><tspan x="750">185</tspan><tspan x="990">185</tspan></text>
<text class="lb" y="90.3"><tspan x="270">226801</tspan><tspan x="510">228361</tspan><tspan x="750">229471</tspan><tspan x="990">230581</tspan></text>
<text class="lc" y="103"><tspan x="270">30.67%</tspan><tspan x="510">30.67%</tspan><tspan x="750">30.67%</tspan><tspan x="990">30.67%</tspan></text></g>

<g id="row35" transform="translate(0,4999)"><use href="#g4"/>
<g class="G"><rect x="31" y="-3.3" width="49" height="6.6"/><use href="#n" x="31"/><use href="#t3" x="91"/><rect x="151" y="-3.3" width="50" height="6.6"/><use href="#n" x="151"/><use href="#t3" x="211"/></g>
<use href="#pf" x="751" y="0" class="G"/>
<text class="mn" y="-8"><tspan x="31">137</tspan><tspan x="271">138</tspan><tspan x="511">139</tspan><tspan x="751">140</tspan></text>
<text class="la" y="77"><tspan x="270">220</tspan><tspan x="510">0</tspan><tspan x="750">0</tspan><tspan x="990">239</tspan></text>
<text class="lb" y="90.3"><tspan x="270">231901</tspan><tspan x="510">231901</tspan><tspan x="750">231901</tspan><tspan x="990">233335</tspan></text>
<text class="lc" y="103"><tspan x="270">30.67%</tspan><tspan x="510">30.67%</tspan><tspan x="750">30.67%</tspan><tspan x="990">30.67%</tspan></text></g>

<g id="row36" transform="translate(0,5140)"><use href="#g4"/>
<use href="#ph" x="31" y="0" class="G"/><use href="#pa" x="271" y="0" class="G"/><use href="#pk" x="511" y="0" class="G"/><use href="#PA" x="751" y="0" class="G"/>
<rect class="og" x="751" width="240" height="61"/><rect class="or" x="91" width="7" height="61"/><rect class="ob" x="98" width="893" height="61"/>
<text class="mn" y="-8"><tspan x="31">141</tspan><tspan x="271">142</tspan><tspan x="511">143</tspan><tspan x="751">144</tspan></text>
<text class="la" y="77"><tspan x="270">220</tspan><tspan x="510">197</tspan><tspan x="750">135</tspan><tspan x="990">197</tspan></text>
<text class="lb" y="90.3"><tspan x="270">235765</tspan><tspan x="510">238129</tspan><tspan x="750">239749</tspan><tspan x="990">242113</tspan></text>
<text class="lc" y="103"><tspan x="270">21.67%</tspan><tspan x="510">9.17%</tspan><tspan x="750">0.00%</tspan><tspan x="990">0.00%</tspan></text></g>

<g id="row37" transform="translate(0,5281)">
<rect class="bd" x="751" y="-11" width="240" height="82.5"/><use href="#g4"/>
<use href="#PI" x="31" y="0" class="G"/><use href="#pj" x="271" y="0" class="G"/><use href="#pe" x="511" y="0" class="G"/><use href="#PF" x="751" y="0" class="G"/>
<rect class="og" x="31" width="219" height="61"/><rect class="og" x="751" width="240" height="61"/>
<rect class="ob" x="31" width="907" height="61"/><rect class="or" x="938" width="13.6" height="61"/>
<text class="mn" y="-8"><tspan x="31">145</tspan><tspan x="271">146</tspan><tspan x="511">147</tspan><tspan x="751">148</tspan></text>
<text class="la" y="77"><tspan x="270">210</tspan><tspan x="510">218</tspan><tspan x="750">150</tspan><tspan x="990">239</tspan></text>
<text class="lb" y="90.3"><tspan x="270">244633</tspan><tspan x="510">247249</tspan><tspan x="750">249049</tspan><tspan x="990">251767</tspan></text>
<text class="lc" y="103"><tspan x="270">23.96%</tspan><tspan x="510">11.46%</tspan><tspan x="750">0.00%</tspan><tspan x="990">0.00%</tspan></text></g>

<g id="row38" transform="translate(0,5422)">
<rect class="bd" x="31" y="-11" width="230" height="82.5"/><use href="#g4"/>
<use href="#PH" x="31" y="0" class="G"/><use href="#pa" x="271" y="0" class="G"/><use href="#pk" x="511" y="0" class="G"/><use href="#pa" x="751" y="0" class="G"/>
<rect class="og" x="31" width="230" height="61"/>
<text class="mn" y="-8"><tspan x="31">149</tspan><tspan x="271">150</tspan><tspan x="511">151</tspan><tspan x="751">152</tspan></text>
<text class="la" y="77"><tspan x="270">220</tspan><tspan x="510">197</tspan><tspan x="750">135</tspan><tspan x="990">197</tspan></text>
<text class="lb" y="90.3"><tspan x="270">253087</tspan><tspan x="510">254269</tspan><tspan x="750">255079</tspan><tspan x="990">256261</tspan></text>
<text class="lc" y="103"><tspan x="270">30.67%</tspan><tspan x="510">30.67%</tspan><tspan x="750">30.67%</tspan><tspan x="990">30.67%</tspan></text></g>

<g id="row39" transform="translate(0,5563)"><use href="#g4"/>
<use href="#pi" x="31" y="0" class="G"/><use href="#pj" x="271" y="0" class="G"/><use href="#pe" x="511" y="0" class="G"/>
<g class="B"><use href="#T6" x="751" y="45"/><rect x="871" y="41.7" width="49" height="6.6"/><use href="#s" x="871" y="45"/><use href="#s" x="931" y="45"/><use href="#s" x="971" y="45"/></g>
<rect class="og" x="751" width="240" height="61"/>
<text class="mn" y="-8"><tspan x="31">153</tspan><tspan x="271">154</tspan><tspan x="511">155</tspan><tspan x="751">156</tspan></text>
<text class="la" y="77"><tspan x="270">210</tspan><tspan x="510">218</tspan><tspan x="750">150</tspan><tspan x="990">235</tspan></text>
<text class="lb" y="90.3"><tspan x="270">257521</tspan><tspan x="510">258829</tspan><tspan x="750">259729</tspan><tspan x="990">261139</tspan></text>
<text class="lc" y="103"><tspan x="270">30.67%</tspan><tspan x="510">30.67%</tspan><tspan x="750">30.67%</tspan><tspan x="990">33.50%</tspan></text></g>

<g id="row40" transform="translate(0,5704)"><use href="#g4"/>
<g class="Y"><rect x="31" y="26.7" width="49" height="6.6"/><use href="#s" x="31" y="30"/><use href="#s" x="91" y="30"/><use href="#s" x="131" y="30"/><use href="#s" x="151" y="30"/><use href="#s" x="191" y="30"/><use href="#s" x="231" y="30"/></g>
<use href="#pc" x="271" y="0" class="G"/><use href="#pq" x="511" y="0" class="G"/>
<g class="B"><use href="#t6" x="751" y="45"/><rect x="871" y="41.7" width="49" height="6.6"/><use href="#n" x="871" y="45"/><use href="#n" x="931" y="45"/><use href="#n" x="951" y="45"/></g>
<use href="#n" x="971" y="30" class="Y"/>
<rect class="og" x="31" width="200" height="61"/>
<text class="mn" y="-8"><tspan x="31">157</tspan><tspan x="271">158</tspan><tspan x="511">159</tspan><tspan x="751">160</tspan></text>
<text class="la" y="77"><tspan x="270">160</tspan><tspan x="510">185</tspan><tspan x="750">185</tspan><tspan x="990">260</tspan></text>
<text class="lb" y="90.3"><tspan x="270">262099</tspan><tspan x="510">263209</tspan><tspan x="750">264319</tspan><tspan x="990">265879</tspan></text>
<text class="lc" y="103"><tspan x="270">61.33%</tspan><tspan x="510">61.33%</tspan><tspan x="750">61.33%</tspan><tspan x="990">61.33%</tspan></text></g>

<g id="row41" transform="translate(0,5845)"><use href="#g4"/>
<use href="#pq" x="31" y="30" class="Y"/><use href="#pc" x="271" y="0" class="G"/><use href="#pq" x="511" y="0" class="G"/><use href="#pd" x="751" y="45" class="B"/>
<rect class="or" x="271" width="16" height="61"/><rect class="ob" x="287" width="704" height="61"/>
<text class="mn" y="-8"><tspan x="31">161</tspan><tspan x="271">162</tspan><tspan x="511">163</tspan><tspan x="751">164</tspan></text>
<text class="la" y="77"><tspan x="270">185</tspan><tspan x="510">185</tspan><tspan x="750">185</tspan><tspan x="990">260</tspan></text>
<text class="lb" y="90.3"><tspan x="270">266989</tspan><tspan x="510">269209</tspan><tspan x="750">271429</tspan><tspan x="990">274549</tspan></text>
<text class="lc" y="103"><tspan x="270">61.33%</tspan><tspan x="510">49.68%</tspan><tspan x="750">37.18%</tspan><tspan x="990">24.68%</tspan></text></g>

<g id="row42" transform="translate(0,5986)">
<rect class="bd" x="751" y="-11" width="240" height="82.5"/><use href="#g4"/>
<use href="#pq" x="31" y="30" class="Y"/><use href="#pc" x="271" y="0" class="G"/><use href="#pq" x="511" y="0" class="G"/><use href="#PD" x="751" y="45" class="B"/>
<rect class="og" x="751" width="240" height="61"/><rect class="ob" x="31" width="960" height="61"/>
<text class="mn" y="-8"><tspan x="31">165</tspan><tspan x="271">166</tspan><tspan x="511">167</tspan><tspan x="751">168</tspan></text>
<text class="la" y="77"><tspan x="270">185</tspan><tspan x="510">185</tspan><tspan x="750">185</tspan><tspan x="990">260</tspan></text>
<text class="lb" y="90.3"><tspan x="270">276769</tspan><tspan x="510">278989</tspan><tspan x="750">281209</tspan><tspan x="990">284329</tspan></text>
<text class="lc" y="103"><tspan x="270">12.18%</tspan><tspan x="510">0.00%</tspan><tspan x="750">0.00%</tspan><tspan x="990">0.00%</tspan></text></g>

<g id="row43" transform="translate(0,6127)">
<rect class="bd" x="31" y="-11" width="200" height="82.5"/><use href="#g4"/>
<use href="#PQ" x="31" y="30" class="Y"/><use href="#pc" x="271" y="0" class="G"/><use href="#pq" x="511" y="0" class="G"/>
<rect class="B" x="751" y="41.7" width="240" height="6.6"/><use href="#n" x="751" y="45" class="B"/>
<rect class="og" x="31" width="200" height="61"/><rect class="ob" x="31" width="103" height="61"/><rect class="or" x="134" width="17.6" height="61"/>
<rect class="or" x="271" width="14" height="61"/><rect class="ob" x="285" width="706" height="61"/>
<text class="mn" y="-8"><tspan x="31">169</tspan><tspan x="271">170</tspan><tspan x="511">171</tspan><tspan x="751">172</tspan></text>
<text class="la" y="77"><tspan x="270">185</tspan><tspan x="510">185</tspan><tspan x="750">185</tspan><tspan x="990">73</tspan></text>
<text class="lb" y="90.3"><tspan x="270">286249</tspan><tspan x="510">288469</tspan><tspan x="750">290689</tspan><tspan x="990">291565</tspan></text>
<text class="lc" y="103"><tspan x="270">25.00%</tspan><tspan x="510">13.25%</tspan><tspan x="750">0.75%</tspan><tspan x="990">0.00%</tspan></text></g>

<g id="row44" transform="translate(0,6268)"><use href="#g4"/>
<rect class="B" x="31" y="41.7" width="230" height="6.6"/>
<rect class="B" x="271" y="41.7" width="471" height="6.6"/><use href="#n" x="271" y="45" class="B"/>
<rect class="Y" x="751" y="26.7" width="240" height="6.6"/><use href="#n" x="751" y="30" class="Y"/>
<rect class="ob" x="31" width="254" height="61"/>
<text class="mn" y="-8"><tspan x="31">173</tspan><tspan x="271">174</tspan><tspan x="511">175</tspan><tspan x="751">176</tspan></text>
<text class="la" y="77"><tspan x="270">46</tspan><tspan x="510">73</tspan><tspan x="750">46</tspan><tspan x="990">73</tspan></text>
<text class="lb" y="90.3"><tspan x="270">292117</tspan><tspan x="510">292723</tspan><tspan x="750">292999</tspan><tspan x="990">293437</tspan></text>
<text class="lc" y="103"><tspan x="270">0.00%</tspan><tspan x="510">0.00%</tspan><tspan x="750">0.00%</tspan><tspan x="990">0.00%</tspan></text></g>

<g id="row45" transform="translate(0,6409)"><use href="#g4"/>
<rect class="Y" x="31" y="26.7" width="230" height="6.6"/>
<rect class="G" x="271" y="-3.3" width="230" height="6.6"/><use href="#s" x="271" y="0" class="G"/>
<rect class="Y" x="511" y="26.7" width="230" height="6.6"/><use href="#s" x="511" y="30" class="Y"/>
<rect class="B" x="751" y="41.7" width="240" height="6.6"/><use href="#n" x="751" y="45" class="B"/>
<rect class="og" x="271" width="470" height="61"/>
<text class="mn" y="-8"><tspan x="31">177</tspan><tspan x="271">178</tspan><tspan x="511">179</tspan><tspan x="751">180</tspan></text>
<text class="la" y="77"><tspan x="270">46</tspan><tspan x="510">71</tspan><tspan x="750">71</tspan><tspan x="990">73</tspan></text>
<text class="lb" y="90.3"><tspan x="270">293713</tspan><tspan x="510">294139</tspan><tspan x="750">294565</tspan><tspan x="990">295003</tspan></text>
<text class="lc" y="103"><tspan x="270">0.00%</tspan><tspan x="510">13.03%</tspan><tspan x="750">51.07%</tspan><tspan x="990">51.07%</tspan></text></g>

<g id="row46" transform="translate(0,6550)"><use href="#g4"/>
<rect class="B" x="31" y="41.7" width="230" height="6.6"/>
<rect class="B" x="271" y="41.7" width="470" height="6.6"/><use href="#n" x="271" y="45" class="B"/>
<rect class="Y" x="751" y="26.7" width="240" height="6.6"/><use href="#n" x="751" y="30" class="Y"/>
<rect class="ob" x="250" width="741" height="61"/>
<text class="mn" y="-8"><tspan x="31">181</tspan><tspan x="271">182</tspan><tspan x="511">183</tspan><tspan x="751">184</tspan></text>
<text class="la" y="77"><tspan x="270">46</tspan><tspan x="510">73</tspan><tspan x="750">46</tspan><tspan x="990">73</tspan></text>
<text class="lb" y="90.3"><tspan x="270">295297</tspan><tspan x="510">296173</tspan><tspan x="750">296725</tspan><tspan x="990">297601</tspan></text>
<text class="lc" y="103"><tspan x="270">49.99%</tspan><tspan x="510">37.49%</tspan><tspan x="750">24.99%</tspan><tspan x="990">12.49%</tspan></text></g>

<g id="row47" transform="translate(0,6691)">
<rect class="bd" x="271" y="-11" width="470" height="82.5"/><use href="#g4"/>
<rect class="Y" x="31" y="26.7" width="230" height="6.6"/>
<rect class="G" x="271" y="-3.3" width="230" height="6.6"/><use href="#s" x="271" y="0" class="G"/>
<rect class="Y" x="511" y="26.7" width="230" height="6.6"/><use href="#s" x="511" y="30" class="Y"/>
<rect class="B" x="751" y="41.7" width="240" height="6.6"/><use href="#n" x="751" y="45" class="B"/>
<rect class="og" x="271" width="470" height="61"/><rect class="ob" x="31" width="470" height="61"/>
<text class="mn" y="-8"><tspan x="31">185</tspan><tspan x="271">186</tspan><tspan x="511">187</tspan><tspan x="751">188</tspan></text>
<text class="la" y="77"><tspan x="270">46</tspan><tspan x="510">71</tspan><tspan x="750">71</tspan><tspan x="990">73</tspan></text>
<text class="lb" y="90.3"><tspan x="270">298153</tspan><tspan x="510">299005</tspan><tspan x="750">299431</tspan><tspan x="990">299869</tspan></text>
<text class="lc" y="103"><tspan x="270">0.00%</tspan><tspan x="510">0.00%</tspan><tspan x="750">38.04%</tspan><tspan x="990">38.04%</tspan></text></g>

<g id="row48" transform="translate(0,6832)"><use href="#g4"/>
<g class="B"><rect x="31" y="41.7" width="170" height="6.6"/><rect x="211" y="41.7" width="50" height="6.6"/><use href="#n" x="211" y="45"/><rect x="271" y="41.7" width="411" height="6.6"/><use href="#n" x="271" y="45"/><rect x="691" y="41.7" width="50" height="6.6"/><use href="#n" x="691" y="45"/></g>
<rect class="Y" x="751" y="26.7" width="240" height="6.6"/><use href="#s" x="751" y="30" class="Y"/>
<rect class="og" x="751" width="240" height="61"/>
<text class="mn" y="-8"><tspan x="31">189</tspan><tspan x="271">190</tspan><tspan x="511">191</tspan><tspan x="751">192</tspan></text>
<text class="la" y="77"><tspan x="270">69</tspan><tspan x="510">73</tspan><tspan x="750">69</tspan><tspan x="990">73</tspan></text>
<text class="lb" y="90.3"><tspan x="270">300283</tspan><tspan x="510">300721</tspan><tspan x="750">301135</tspan><tspan x="990">301573</tspan></text>
<text class="lc" y="103"><tspan x="270">38.04%</tspan><tspan x="510">38.04%</tspan><tspan x="750">38.04%</tspan><tspan x="990">51.64%</tspan></text></g>

<g id="row49" transform="translate(0,6973)"><use href="#g4"/>
<g class="Y"><rect x="31" y="26.7" width="170" height="6.6"/><rect x="211" y="26.7" width="50" height="6.6"/><use href="#s" x="211" y="30"/></g>
<rect class="G" x="271" y="-3.3" width="230" height="6.6"/><use href="#n" x="271" y="0" class="G"/>
<rect class="Y" x="511" y="26.7" width="230" height="6.6"/><use href="#n" x="511" y="30" class="Y"/>
<rect class="B" x="751" y="41.7" width="240" height="6.6"/><use href="#n" x="751" y="45" class="B"/>
<rect class="og" x="31" width="230" height="61"/>
<text class="mn" y="-8"><tspan x="31">193</tspan><tspan x="271">194</tspan><tspan x="511">195</tspan><tspan x="751">196</tspan></text>
<text class="la" y="77"><tspan x="270">69</tspan><tspan x="510">71</tspan><tspan x="750">71</tspan><tspan x="990">73</tspan></text>
<text class="lb" y="90.3"><tspan x="270">301987</tspan><tspan x="510">302413</tspan><tspan x="750">302839</tspan><tspan x="990">303277</tspan></text>
<text class="lc" y="103"><tspan x="270">89.10%</tspan><tspan x="510">89.10%</tspan><tspan x="750">89.10%</tspan><tspan x="990">89.10%</tspan></text></g>

<g id="row50" transform="translate(0,7114)"><use href="#g4"/>
<g class="B"><rect x="31" y="41.7" width="170" height="6.6"/><rect x="211" y="41.7" width="50" height="6.6"/><use href="#n" x="211" y="45"/><rect x="271" y="41.7" width="411" height="6.6"/><use href="#n" x="271" y="45"/><rect x="691" y="41.7" width="50" height="6.6"/><use href="#n" x="691" y="45"/></g>
<rect class="Y" x="751" y="26.7" width="240" height="6.6"/><use href="#n" x="751" y="30" class="Y"/>
<text class="mn" y="-8"><tspan x="31">197</tspan><tspan x="271">198</tspan><tspan x="511">199</tspan><tspan x="751">200</tspan></text>
<text class="la" y="77"><tspan x="270">69</tspan><tspan x="510">73</tspan><tspan x="750">69</tspan><tspan x="990">73</tspan></text>
<text class="lb" y="90.3"><tspan x="270">303691</tspan><tspan x="510">304129</tspan><tspan x="750">304543</tspan><tspan x="990">304981</tspan></text>
<text class="lc" y="103"><tspan x="270">89.10%</tspan><tspan x="510">89.10%</tspan><tspan x="750">89.10%</tspan><tspan x="990">89.10%</tspan></text></g>

<g id="row51" transform="translate(0,7255)">
<rect class="bd" x="751" y="-11" width="240" height="82.5"/><use href="#g4"/>
<g class="Y"><rect x="31" y="26.7" width="170" height="6.6"/><rect x="211" y="26.7" width="50" height="6.6"/><use href="#n" x="211" y="30"/></g>
<rect class="G" x="271" y="-3.3" width="230" height="6.6"/><use href="#n" x="271" y="0" class="G"/>
<rect class="Y" x="511" y="26.7" width="230" height="6.6"/><use href="#n" x="511" y="30" class="Y"/>
<use href="#S16" x="751" y="45" class="B"/>
<rect class="og" x="751" width="240" height="61"/><rect class="ob" x="255" width="736" height="61"/>
<text class="mn" y="-8"><tspan x="31">201</tspan><tspan x="271">202</tspan><tspan x="511">203</tspan><tspan x="751">204</tspan></text>
<text class="la" y="77"><tspan x="270">69</tspan><tspan x="510">71</tspan><tspan x="750">71</tspan><tspan x="990">400</tspan></text>
<text class="lb" y="90.3"><tspan x="270">305407</tspan><tspan x="510">306259</tspan><tspan x="750">307111</tspan><tspan x="990">311911</tspan></text>
<text class="lc" y="103"><tspan x="270">88.30%</tspan><tspan x="510">75.80%</tspan><tspan x="750">63.30%</tspan><tspan x="990">50.80%</tspan></text></g>

<g id="row52" transform="translate(0,7396)">
<rect class="bd" x="31" y="-11" width="224" height="82.5"/><use href="#g4"/>
<use href="#S16" x="31" y="45" class="B"/><use href="#s16" x="271" y="45" class="B"/><use href="#s16" x="511" y="45" class="B"/><use href="#s16" x="751" y="30" class="Y"/>
<rect class="og" x="31" width="224" height="61"/><rect class="ob" x="31" width="960" height="61"/>
<text class="mn" y="-8"><tspan x="31">205</tspan><tspan x="271">206</tspan><tspan x="511">207</tspan><tspan x="751">208</tspan></text>
<text class="la" y="77"><tspan x="270">400</tspan><tspan x="510">400</tspan><tspan x="750">400</tspan><tspan x="990">400</tspan></text>
<text class="lb" y="90.3"><tspan x="270">316711</tspan><tspan x="510">321511</tspan><tspan x="750">326311</tspan><tspan x="990">331111</tspan></text>
<text class="lc" y="103"><tspan x="270">63.30%</tspan><tspan x="510">50.80%</tspan><tspan x="750">38.30%</tspan><tspan x="990">25.80%</tspan></text></g>

<g id="row53" transform="translate(0,7537)"><use href="#g4"/>
<use href="#s16" x="31" y="30" class="Y"/><use href="#s16" x="271" y="0" class="G"/><use href="#s16" x="511" y="30" class="Y"/><use href="#s16" x="751" y="45" class="B"/>
<rect class="ob" x="31" width="960" height="61"/>
<text class="mn" y="-8"><tspan x="31">209</tspan><tspan x="271">210</tspan><tspan x="511">211</tspan><tspan x="751">212</tspan></text>
<text class="la" y="77"><tspan x="270">400</tspan><tspan x="510">400</tspan><tspan x="750">400</tspan><tspan x="990">400</tspan></text>
<text class="lb" y="90.3"><tspan x="270">335911</tspan><tspan x="510">340711</tspan><tspan x="750">345511</tspan><tspan x="990">350311</tspan></text>
<text class="lc" y="103"><tspan x="270">13.30%</tspan><tspan x="510">0.80%</tspan><tspan x="750">0.00%</tspan><tspan x="990">0.00%</tspan></text></g>

<g id="row54" transform="translate(0,7678)"><use href="#g4"/>
<use href="#s16" x="31" y="45" class="B"/><use href="#s16" x="271" y="45" class="B"/><use href="#s16" x="511" y="45" class="B"/><use href="#s16" x="751" y="30" class="Y"/>
<rect class="ob" x="31" width="224" height="61"/><rect class="or" x="255" width="16" height="61"/>
<text class="mn" y="-8"><tspan x="31">213</tspan><tspan x="271">214</tspan><tspan x="511">215</tspan><tspan x="751">216</tspan></text>
<text class="la" y="77"><tspan x="270">400</tspan><tspan x="510">400</tspan><tspan x="750">400</tspan><tspan x="990">400</tspan></text>
<text class="lb" y="90.3"><tspan x="270">355111</tspan><tspan x="510">357661</tspan><tspan x="750">360061</tspan><tspan x="990">362461</tspan></text>
<text class="lc" y="103"><tspan x="270">0.00%</tspan><tspan x="510">0.00%</tspan><tspan x="750">0.00%</tspan><tspan x="990">0.00%</tspan></text></g>

<g id="row55" transform="translate(0,7819)"><use href="#g3"/>
<use href="#s16" x="31" y="30" class="Y"/><use href="#s16" x="271" y="0" class="G"/><use href="#s16" x="511" y="30" class="Y"/>
<text class="mn" y="-8"><tspan x="31">217</tspan><tspan x="271">218</tspan><tspan x="511">219</tspan></text>
<text class="la" y="77"><tspan x="270">400</tspan><tspan x="510">400</tspan><tspan x="750">400</tspan></text>
<text class="lb" y="90.3"><tspan x="270">364861</tspan><tspan x="510">367261</tspan><tspan x="750">369661</tspan></text>
<text class="lc" y="103"><tspan x="270">0.00%</tspan><tspan x="510">0.00%</tspan><tspan x="750">0.00%</tspan></text></g>
</g>
</svg>
